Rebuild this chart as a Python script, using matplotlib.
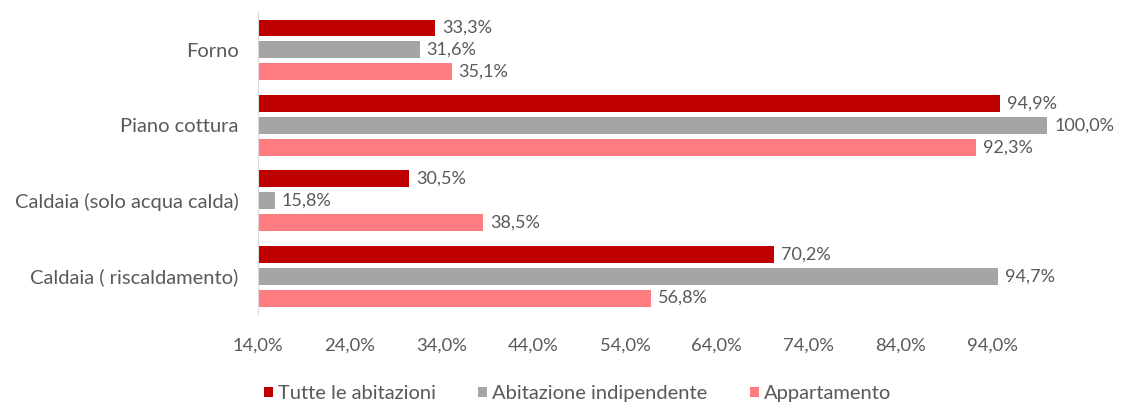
import matplotlib.pyplot as plt
import numpy as np

plt.rcParams['font.family'] = ['Lato', 'DejaVu Sans']

categorie = ['Forno', 'Piano cottura', 'Caldaia (solo acqua calda)', 'Caldaia ( riscaldamento)']
serie = ['Tutte le abitazioni', 'Abitazione indipendente', 'Appartamento']
tutte = [33.3, 94.9, 30.5, 70.2]
indipendente = [31.6, 100.0, 15.8, 94.7]
appartamento = [35.1, 92.3, 38.5, 56.8]
tick_vals = [14, 24, 34, 44, 54, 64, 74, 84, 94]

colori = ['#C00000', '#A5A5A5', '#FF7C80']
testo = '#595959'

fig = plt.figure(figsize=(11.32, 4.05), dpi=100)
ax = fig.add_axes([0.228, 0.225, 0.697, 0.745])

y = np.arange(len(categorie))
step = 0.29
h = 0.225
valori = [tutte, indipendente, appartamento]
for i, (vals, col, nome) in enumerate(zip(valori, colori, serie)):
    pos = y + (i - 1) * step
    ax.barh(pos, vals, height=h, color=col, label=nome)
    for p, v in zip(pos, vals):
        ax.annotate(f'{v:.1f}%'.replace('.', ','), (v, p), xytext=(5, 0),
                    textcoords='offset points', va='center', ha='left',
                    fontsize=13, color=testo)

ax.set_xlim(14, 100)
ax.set_ylim(3.5, -0.5)
ax.set_yticks(y)
ax.set_yticklabels(categorie, fontsize=14.5, color=testo)
ax.set_xticks(tick_vals)
ax.set_xticklabels([f'{t:.1f}%'.replace('.', ',') for t in tick_vals], fontsize=13.2, color=testo)
ax.tick_params(axis='both', length=0)
ax.tick_params(axis='x', pad=17)
ax.tick_params(axis='y', pad=14)
for s in ['top', 'right', 'bottom']:
    ax.spines[s].set_visible(False)
ax.spines['left'].set_color('#D9D9D9')

fig.legend(loc='center', bbox_to_anchor=(0.51, 0.028), ncol=3, frameon=False,
           fontsize=14.5, handlelength=0.45, handleheight=0.45, handletextpad=0.25,
           columnspacing=2.1, labelcolor=testo)

fig.savefig('out.png', dpi=100)
